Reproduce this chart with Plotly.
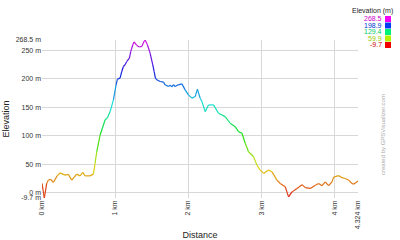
import colorsys
import plotly.graph_objects as go

# distance (km) and elevation (m)
dist_km = [0.000, 0.032, 0.064, 0.086, 0.119, 0.155, 0.205, 0.247, 0.315, 0.360,
           0.407, 0.475, 0.521, 0.558, 0.589, 0.658, 0.703, 0.726, 0.749, 0.795,
           0.818, 0.863, 0.895, 0.932, 0.977, 1.014, 1.032, 1.068, 1.092, 1.114,
           1.137, 1.160, 1.196, 1.215, 1.242, 1.260, 1.297, 1.333, 1.366, 1.397,
           1.411, 1.442, 1.479, 1.516, 1.534, 1.552, 1.571, 1.616, 1.662, 1.685,
           1.730, 1.755, 1.777, 1.800, 1.822, 1.863, 1.914, 1.959, 2.004, 2.051,
           2.096, 2.127, 2.164, 2.188, 2.233, 2.278, 2.347, 2.415, 2.507, 2.575,
           2.644, 2.689, 2.736, 2.781, 2.826, 2.895, 2.941, 2.986, 3.032, 3.100,
           3.147, 3.215, 3.260, 3.329, 3.374, 3.421, 3.489, 3.558, 3.603, 3.671,
           3.740, 3.785, 3.832, 3.877, 3.922, 3.968, 3.990, 4.059, 4.105, 4.151,
           4.196, 4.242, 4.264, 4.311, 4.324]
elev_m = [15.9, -9.7, 15.9, 21.7, 23.0, 17.7, 28.8, 34.6, 30.6, 31.8,
          21.7, 32.3, 29.3, 35.3, 29.3, 29.3, 32.3, 51.2, 71.7, 101.2,
          110.1, 127.7, 131.8, 142.4, 163.1, 189.6, 199.6, 201.4, 213.1, 221.9,
          224.9, 230.7, 236.7, 248.4, 260.2, 265.0, 259.0, 256.2, 257.2, 266.1,
          268.5, 260.2, 245.6, 224.9, 213.1, 201.4, 198.4, 195.4, 194.3, 189.6,
          186.6, 189.0, 186.0, 190.0, 186.6, 189.6, 191.3, 180.7, 171.9, 166.1,
          168.9, 182.0, 166.1, 160.1, 142.4, 154.2, 154.2, 139.6, 133.6, 121.9,
          115.9, 107.1, 104.2, 86.6, 71.7, 62.9, 48.2, 39.4, 33.6, 39.4,
          36.4, 21.7, 15.9, 9.9, -7.8, 1.1, 7.1, 13.8, 8.5, 7.1,
          12.9, 15.9, 12.0, 18.7, 12.0, 18.7, 27.0, 29.7, 26.1, 24.7,
          21.7, 15.9, 14.7, 18.7, 20.5]

elev_min, elev_max = -9.7, 268.5
x_tickvals = [0, 1, 2, 3, 4, 4.324]
x_ticktext = ["0 km", "1 km", "2 km", "3 km", "4 km", "4.324 km"]
y_tickvals = [-9.7, 0, 50, 100, 150, 200, 250, 268.5]
y_ticktext = ["-9.7 m", "0 m", "50 m", "100 m", "150 m", "200 m", "250 m", "268.5 m"]
legend_vals = [268.5, 198.9, 129.4, 59.9, -9.7]


def hue_color(e, v=0.9, s=1.0):
    h = (e - elev_min) / (elev_max - elev_min) * (300.0 / 360.0)
    r, g, b = colorsys.hsv_to_rgb(h, s, v)
    return "rgb(%d,%d,%d)" % (r * 255, g * 255, b * 255)


fig = go.Figure()
for i in range(len(dist_km) - 1):
    e_avg = (elev_m[i] + elev_m[i + 1]) / 2
    fig.add_trace(go.Scatter(
        x=dist_km[i:i + 2], y=elev_m[i:i + 2], mode="lines",
        line=dict(color=hue_color(e_avg, v=0.88, s=0.9), width=1.2),
        hoverinfo="skip", showlegend=False))

font_family = "Liberation Sans, Arial, sans-serif"

fig.update_layout(
    width=400, height=240,
    margin=dict(l=42, r=42, t=40, b=42),
    paper_bgcolor="white", plot_bgcolor="white",
    font=dict(family=font_family, size=7, color="#333"),
    xaxis=dict(range=[0, 4.324], tickvals=x_tickvals, ticktext=x_ticktext,
               tickangle=-90, showgrid=True, gridcolor="#d8d8d8", gridwidth=1,
               zeroline=False, showline=False, ticks="", automargin=False,
               tickfont=dict(size=7, color="#333"),
               title=dict(text="Distance", font=dict(size=9, color="#222"), standoff=6)),
    yaxis=dict(range=[-9.7, 268.5], tickvals=y_tickvals, ticktext=y_ticktext,
               showgrid=True, gridcolor="#d8d8d8", gridwidth=1,
               zeroline=False, showline=False, ticks="", automargin=False,
               tickfont=dict(size=7, color="#333"),
               title=dict(text="Elevation", font=dict(size=9, color="#222"), standoff=4)),
)

# colour legend
fig.add_annotation(xref="paper", yref="paper", x=(395 - 42) / 316, y=1 + (40 - 11) / 158,
                   text="Elevation (m)", showarrow=False, xanchor="right", yanchor="middle",
                   font=dict(size=7, color="#222", family=font_family))
for k, v in enumerate(legend_vals):
    ypix = 19 + k * 6.5
    yp = 1 + (40 - ypix) / 158
    fig.add_annotation(xref="paper", yref="paper", x=(384 - 42) / 316, y=yp,
                       text="%.1f" % v, showarrow=False, xanchor="right", yanchor="middle",
                       font=dict(size=7, color=hue_color(v, v=0.8), family=font_family))
    fig.add_shape(type="rect", xref="paper", yref="paper",
                  x0=(385 - 42) / 316, x1=(391 - 42) / 316,
                  y0=yp - 3 / 158, y1=yp + 3 / 158,
                  fillcolor=hue_color(v, v=0.95), line=dict(width=0))

fig.add_annotation(xref="paper", yref="paper", x=(383 - 42) / 316, y=1 - (135 - 40) / 158,
                   text="created by GPSVisualizer.com", textangle=-90, showarrow=False,
                   xanchor="center", yanchor="middle",
                   font=dict(size=6, color="#aaa", family=font_family))

fig.write_html("out.html")
